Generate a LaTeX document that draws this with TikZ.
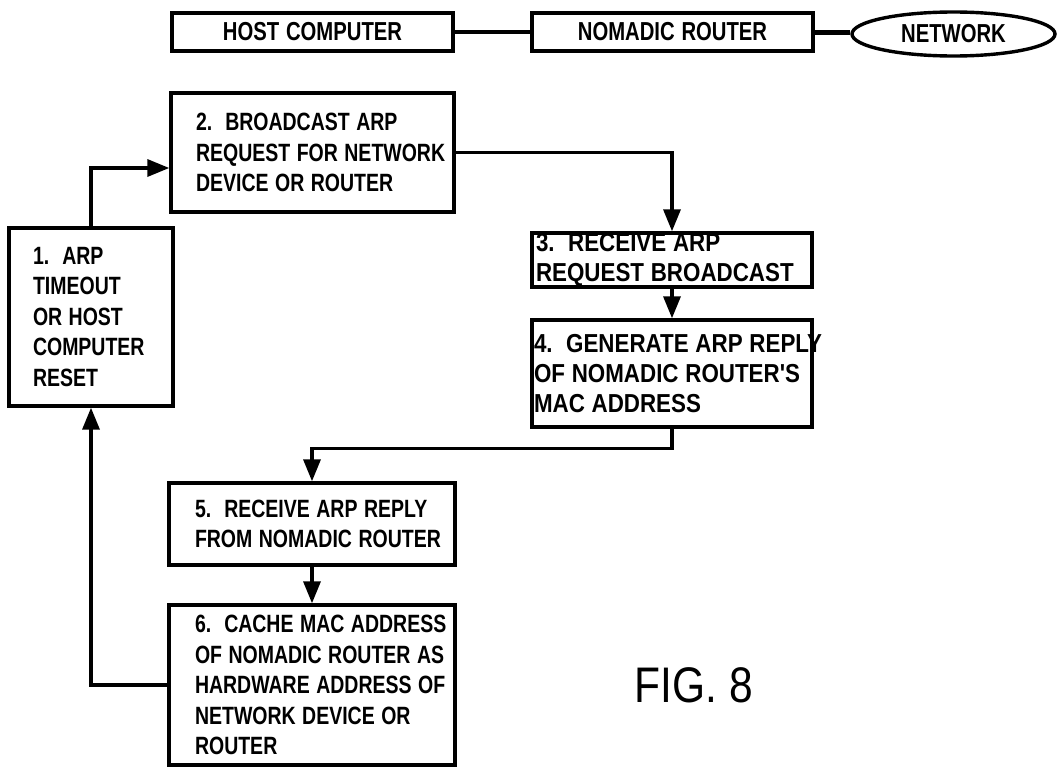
\documentclass[tikz,border=0pt]{standalone}
\usepackage{fontspec}
\setmainfont{Liberation Sans}[FakeStretch=0.78,UprightFont=*,BoldFont=* Bold]
\newfontfamily\wideboxfont{Liberation Sans}[FakeStretch=0.86,UprightFont=* Bold]
\newfontfamily\figfont{Liberation Sans}[FakeStretch=0.85]
\usetikzlibrary{arrows.meta,calc,shapes.geometric}
\newcommand{\myln}[1]{\mbox{\spaceskip=0.26em\relax\xspaceskip=0.26em\relax #1}}
\begin{document}
\begin{tikzpicture}[x=1pt,y=-1pt,
  box/.style={draw,line width=3.4pt,rectangle,align=left,inner ysep=0pt,
     font=\bfseries\fontsize{25}{30.5}\selectfont},
  widebox/.style={box,font=\wideboxfont\fontsize{26}{30}\selectfont},
  topbox/.style={draw,line width=3.4pt,rectangle,minimum width=281pt,minimum height=38pt,
     inner sep=0pt,font=\bfseries\fontsize{26}{30.5}\selectfont},
  conn/.style={line width=3.4pt},
  arr/.style={line width=3.4pt,-{Triangle[length=22pt,width=17pt]}}]
\useasboundingbox (0,0) rectangle (1061,771);

% top row
\node[topbox] (host) at (312.5,32) {\myln{HOST COMPUTER}};
\node[topbox] (nomad) at (672.5,32) {\myln{NOMADIC ROUTER}};
\node[draw,line width=3.4pt,ellipse,minimum width=203pt,minimum height=44pt,inner sep=0pt,
  font=\bfseries\fontsize{26}{30.5}\selectfont] (net) at (953.5,34) {NETWORK};
\draw[conn] (host.east) -- (nomad.west);
\draw[line width=5pt] (nomad.east) -- (nomad.east -| net.west);

% flow boxes
\node[box,text width=116pt,inner xsep=24pt,minimum height=178pt] (b1) at (91,317)
  {\myln{1.~ ARP}\\\myln{TIMEOUT}\\\myln{OR HOST}\\\myln{COMPUTER}\\\myln{RESET}};
\node[box,text width=233pt,inner xsep=25pt,minimum height=119pt] (b2) at (312.5,152.5)
  {\myln{2.~ BROADCAST ARP}\\\myln{REQUEST FOR NETWORK}\\\myln{DEVICE OR ROUTER}};
\node[widebox,text width=272pt,inner xsep=4pt,minimum height=54pt] (b3) at (672,260)
  {\myln{3.~ RECEIVE ARP}\\\myln{REQUEST BROADCAST}};
\node[widebox,text width=276pt,inner xsep=2pt,minimum height=107pt] (b4) at (672,373.5)
  {\myln{4.~ GENERATE ARP REPLY}\\\myln{OF NOMADIC ROUTER'S}\\\myln{MAC ADDRESS}};
\node[box,text width=234pt,inner xsep=26pt,minimum height=82pt] (b5) at (312,524)
  {\myln{5.~ RECEIVE ARP REPLY}\\\myln{FROM NOMADIC ROUTER}};
\node[box,text width=234pt,inner xsep=26pt,minimum height=160pt] (b6) at (312,685)
  {\myln{6.~ CACHE MAC ADDRESS}\\\myln{OF NOMADIC ROUTER AS}\\\myln{HARDWARE ADDRESS OF}\\\myln{NETWORK DEVICE OR}\\\myln{ROUTER}};

\coordinate (c12) at ($(b2.west)+(0,15.5)$);
\draw[arr] (b1.north) |- (c12);
\draw[arr] (b2.east) -| (b3.north);
\draw[arr] (b3.south) -- (b4.north);
\coordinate (c45) at ($(b4.south)+(0,20)$);
\draw[arr] (b4.south) -- (c45) -| (b5.north);
\draw[arr] (b5.south) -- (b6.north);
\draw[arr] (b6.west) -| (b1.south);

\node[font=\figfont\fontsize{50}{56}\selectfont,inner sep=0pt] (fig) at (694,685) {FIG. 8};
\end{tikzpicture}
\end{document}
